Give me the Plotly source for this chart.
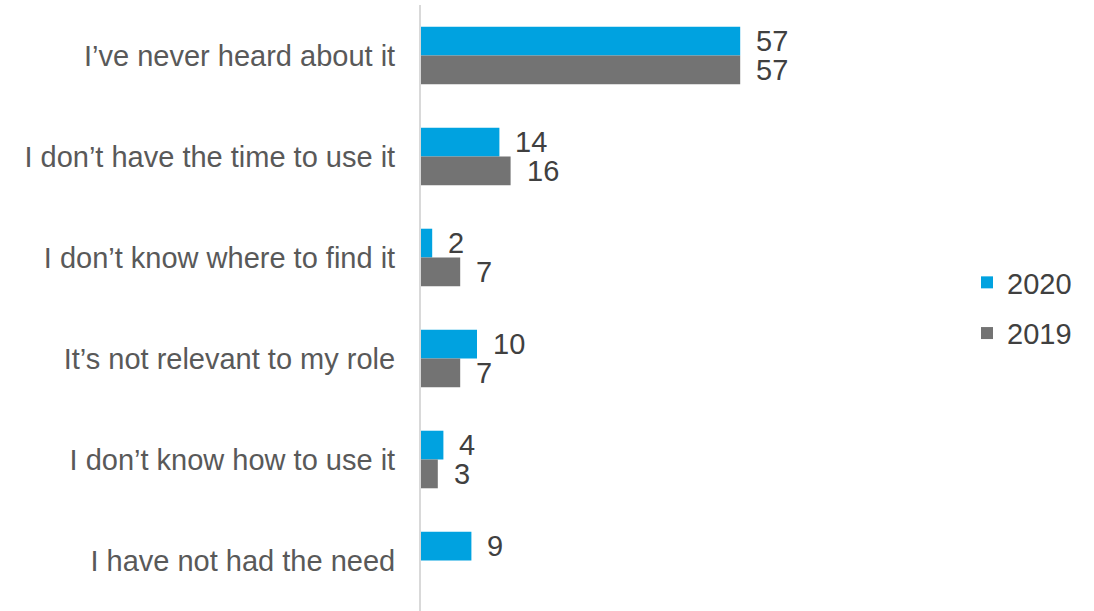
import plotly.graph_objects as go

# Reasons for not using the resource, by survey year (%)
categories = [
    "I’ve never heard about it",
    "I don’t have the time to use it",
    "I don’t know where to find it",
    "It’s not relevant to my role",
    "I don’t know how to use it",
    "I have not had the need",
]
values_2020 = [57, 14, 2, 10, 4, 9]
values_2019 = [57, 16, 7, 7, 3, None]

series = [
    ("2020", values_2020, "#00A2E0", 14.5),
    ("2019", values_2019, "#737373", -14.5),
]

FONT = "Liberation Sans, Arial, sans-serif"

fig = go.Figure()
annotations = []
for i, (name, vals, color, shift) in enumerate(series):
    fig.add_trace(go.Bar(
        name=name,
        y=categories,
        x=vals,
        orientation="h",
        marker=dict(color=color, line=dict(width=0)),
        legendgroup=name,
        hoverinfo="skip",
    ))
    for cat, v in zip(categories, vals):
        if v is None:
            continue
        annotations.append(dict(
            x=v, y=cat, xref="x", yref="y",
            text=str(v), showarrow=False,
            xanchor="left", yanchor="middle",
            xshift=14, yshift=shift,
            font=dict(family=FONT, size=29, color="#404040"),
        ))

fig.update_layout(
    width=1094, height=611,
    margin=dict(l=421, r=113, t=5, b=0),
    paper_bgcolor="white", plot_bgcolor="white",
    barmode="group", bargap=0.43, bargroupgap=0,
    font=dict(family=FONT, size=29, color="#595959"),
    showlegend=True,
    legend=dict(
        x=0.975, y=0.5, xanchor="left", yanchor="middle",
        traceorder="grouped", tracegroupgap=10,
        font=dict(family=FONT, size=29, color="#404040"),
        bgcolor="rgba(0,0,0,0)",
    ),
    annotations=annotations,
    xaxis=dict(range=[0, 100], visible=False, fixedrange=True),
    yaxis=dict(
        autorange="reversed",
        showline=True, linecolor="#D9D9D9", linewidth=2,
        showgrid=False, zeroline=False,
        ticks="", ticklabelstandoff=18,
        tickfont=dict(family=FONT, size=29, color="#595959"),
    ),
)

fig.write_html("out.html")
